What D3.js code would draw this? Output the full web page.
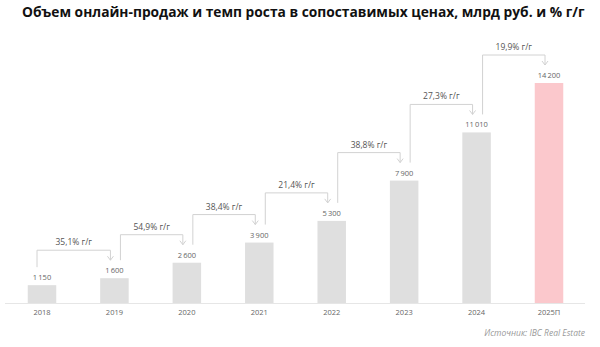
<!DOCTYPE html>
<html><head><meta charset="utf-8">
<script src="https://cdn.jsdelivr.net/npm/d3@7"></script>
<style>body{margin:0;background:#fff}svg{display:block}</style>
</head><body>
<svg id="c" width="600" height="347"></svg>
<script>
const years = ["2018","2019","2020","2021","2022","2023","2024","2025П"];
const values = [1150,1600,2600,3900,5300,7900,11010,14200];
const growth = [35.1,54.9,38.4,21.4,38.8,27.3,19.9];
const title = "Объем онлайн-продаж и темп роста в сопоставимых ценах, млрд руб. и % г/г";
const source = "Источник: IBC Real Estate";

const svg = d3.select("#c");
const x = d3.scalePoint().domain(years).range([42,549]);
const y = d3.scaleLinear().domain([0,14200]).range([303,83]);
const bw = 28.5;
const loc = d3.formatLocale({decimal:",", thousands:"\u2009", grouping:[3], currency:["",""]});
const fmtV = loc.format(",d");
const fmtP = loc.format(".1f");
const font = "'Open Sans', sans-serif";

// title
const t = svg.append("text").attr("x",22).attr("y",17)
  .attr("font-family",font).attr("font-weight","bold").attr("font-size",14)
  .attr("fill","#111").text(title);
const L = t.node().getComputedTextLength();
t.attr("font-size", 14*563/L);

// axis line
svg.append("line").attr("x1",5).attr("x2",585).attr("y1",303.5).attr("y2",303.5)
  .attr("stroke","#e6e6e6").attr("stroke-width",1);

// bars
svg.selectAll("rect.bar").data(values).join("rect")
  .attr("x",(d,i)=>x(years[i])-bw/2).attr("width",bw)
  .attr("y",d=>y(d)).attr("height",d=>y(0)-y(d))
  .attr("fill",(d,i)=>i===values.length-1?"#fbc8cc":"#dfdfdf");

// value labels
svg.selectAll("text.val").data(values).join("text")
  .attr("x",(d,i)=>x(years[i])).attr("y",d=>y(d)-5)
  .attr("text-anchor","middle").attr("font-family",font).attr("font-size",7.5)
  .attr("fill","#666").text(d=>fmtV(d));

// year labels
svg.selectAll("text.yr").data(years).join("text")
  .attr("x",d=>x(d)).attr("y",315)
  .attr("text-anchor","middle").attr("font-family",font).attr("font-size",7.5)
  .attr("fill","#666").text(d=>d);

// growth arrows
growth.forEach((g,i)=>{
  const cx0 = x(years[i]), cx1 = x(years[i+1]);
  const sx = i===0 ? cx0-5 : cx0+6;
  const ax = cx1-4;
  const top0 = y(values[i]), top1 = y(values[i+1]);
  const ly = top1-28, tip = top1-18, sb = top0-18;
  svg.append("path")
    .attr("d", d3.line()([[sx,sb],[sx,ly],[ax,ly],[ax,tip]]))
    .attr("fill","none").attr("stroke","#d2d2d2").attr("stroke-width",1);
  svg.append("path")
    .attr("d", d3.line()([[ax-3,tip-4],[ax,tip],[ax+3,tip-4]]))
    .attr("fill","none").attr("stroke","#d2d2d2").attr("stroke-width",1);
  svg.append("text").attr("x",(sx+ax)/2).attr("y",ly-5)
    .attr("text-anchor","middle").attr("font-family",font).attr("font-size",8.5)
    .attr("fill","#555").text(fmtP(g)+"% г/г");
});

// source
svg.append("text").attr("x",585).attr("y",336).attr("text-anchor","end")
  .attr("font-family",font).attr("font-style","italic").attr("font-size",8.5)
  .attr("fill","#999").text(source);
</script>
</body></html>
